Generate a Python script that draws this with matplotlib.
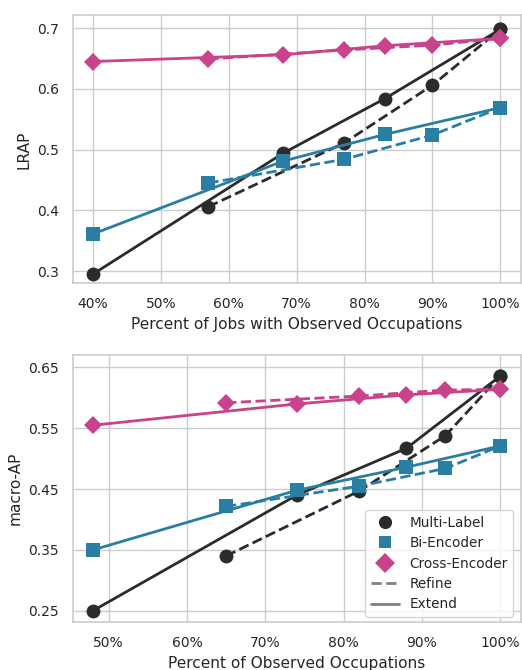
import matplotlib
matplotlib.use("Agg")
import matplotlib.pyplot as plt
import seaborn as sns
from matplotlib.lines import Line2D
from matplotlib.ticker import FuncFormatter

sns.set_theme(style="whitegrid")
plt.rcParams['font.family'] = ['DejaVu Sans']

# ---- Top panel: LRAP vs percent of jobs with observed occupations ----
top_extend_x = [40, 68, 83, 100]
top_refine_x = [57, 77, 90, 100]
top_ml_extend = [0.295, 0.494, 0.584, 0.698]
top_ml_refine = [0.406, 0.511, 0.606, 0.698]
top_bi_extend = [0.361, 0.481, 0.525, 0.569]
top_bi_refine = [0.445, 0.484, 0.524, 0.569]
top_ce_extend = [0.645, 0.656, 0.671, 0.683]
top_ce_refine = [0.649, 0.664, 0.672, 0.683]

# ---- Bottom panel: macro-AP vs percent of observed occupations ----
bot_extend_x = [48, 74, 88, 100]
bot_refine_x = [65, 82, 93, 100]
bot_ml_extend = [0.250, 0.440, 0.517, 0.636]
bot_ml_refine = [0.340, 0.447, 0.538, 0.636]
bot_bi_extend = [0.350, 0.448, 0.486, 0.521]
bot_bi_refine = [0.4215, 0.455, 0.484, 0.521]
bot_ce_extend = [0.555, 0.590, 0.605, 0.614]
bot_ce_refine = [0.592, 0.603, 0.613, 0.614]

models = ["Multi-Label", "Bi-Encoder", "Cross-Encoder"]
colors = ["#2b2b2b", "#2a7ea3", "#c8428c"]
markers = ["o", "s", "D"]
msizes = [10, 9.5, 9.5]
leg_msizes = [9.5, 9, 10.5]

fig = plt.figure(figsize=(5.22, 6.70), dpi=100)
ax1 = fig.add_axes([0.139, 0.577, 0.8585, 0.400])
ax2 = fig.add_axes([0.139, 0.0712, 0.8585, 0.3994])

def draw(ax, ex, rx, series):
    for (ext, ref), c, m, ms in zip(series, colors, markers, msizes):
        ax.plot(rx, ref, linestyle="--", color=c, lw=2, marker=m, ms=ms,
                markeredgewidth=0, zorder=3)
        ax.plot(ex, ext, linestyle="-", color=c, lw=2, marker=m, ms=ms,
                markeredgewidth=0, zorder=3)

draw(ax1, top_extend_x, top_refine_x,
     [(top_ml_extend, top_ml_refine), (top_bi_extend, top_bi_refine),
      (top_ce_extend, top_ce_refine)])
draw(ax2, bot_extend_x, bot_refine_x,
     [(bot_ml_extend, bot_ml_refine), (bot_bi_extend, bot_bi_refine),
      (bot_ce_extend, bot_ce_refine)])

pct = FuncFormatter(lambda v, p: f"{v:.0f}%")
ax1.set_xlim(37, 103)
ax1.set_ylim(0.2797, 0.7209)
ax1.set_xticks([40, 50, 60, 70, 80, 90, 100])
ax1.set_yticks([0.3, 0.4, 0.5, 0.6, 0.7])
ax1.set_yticklabels(["0.3", "0.4", "0.5", "0.6", "0.7"])
ax1.xaxis.set_major_formatter(pct)
ax1.set_xlabel("Percent of Jobs with Observed Occupations", fontsize=11.1)
ax1.set_ylabel("LRAP", fontsize=11.1)

ax2.set_xlim(45.4, 102.6)
ax2.set_ylim(0.231, 0.671)
ax2.set_xticks([50, 60, 70, 80, 90, 100])
ax2.set_yticks([0.25, 0.35, 0.45, 0.55, 0.65])
ax2.xaxis.set_major_formatter(pct)
ax2.set_xlabel("Percent of Observed Occupations", fontsize=11.1)
ax2.set_ylabel("macro-AP", fontsize=11.1)

for ax in (ax1, ax2):
    ax.tick_params(labelsize=10, pad=4)
    for s in ax.spines.values():
        s.set_color("#cccccc")
        s.set_linewidth(1.2)

handles = [Line2D([], [], linestyle="none", marker=m, color=c, ms=s,
                  markeredgewidth=0)
           for m, c, s in zip(markers, colors, leg_msizes)]
handles += [Line2D([], [], color="#808080", lw=2, linestyle="--"),
            Line2D([], [], color="#808080", lw=2, linestyle="-")]
ax2.legend(handles, models + ["Refine", "Extend"], loc="lower right",
           fontsize=9.8, frameon=True, borderpad=0.4, labelspacing=0.47,
           handlelength=2.1, handletextpad=0.75, borderaxespad=0.4,
           bbox_to_anchor=(0.995, 0.0))

fig.savefig("out.png", dpi=100)
